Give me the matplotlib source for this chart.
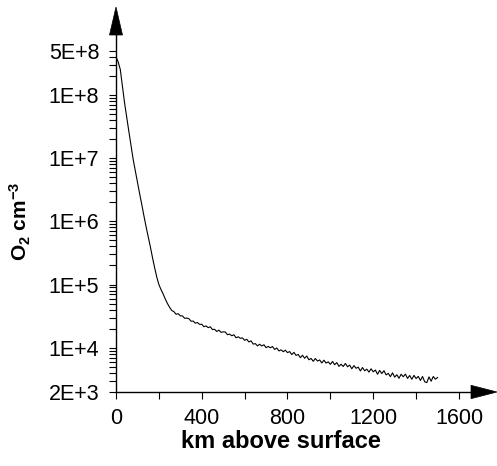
import numpy as np
import matplotlib
matplotlib.use("Agg")
import matplotlib.pyplot as plt
from matplotlib.patches import Polygon
from matplotlib.ticker import FixedLocator, NullFormatter

plt.rcParams['font.family'] = ['Liberation Sans', 'DejaVu Sans']
plt.rcParams['mathtext.fontset'] = 'custom'
plt.rcParams['mathtext.rm'] = 'Liberation Sans:bold'
plt.rcParams['mathtext.default'] = 'rm'

# ---- data ----
altitude_start_km = 0
altitude_step_km = 10
# log10 of O2 density (cm^-3), one value every 10 km from 0 to 1500 km
log10_o2 = [
    8.60, 8.52, 8.40, 8.14, 7.87, 7.64, 7.42, 7.20, 6.98, 6.80,
    6.62, 6.44, 6.27, 6.09, 5.92, 5.76, 5.60, 5.43, 5.27, 5.12,
    5.00, 4.92, 4.85, 4.77, 4.70, 4.64,
    4.590, 4.572, 4.530, 4.540, 4.505, 4.504, 4.466, 4.470, 4.460, 4.420,
    4.422, 4.389, 4.399, 4.370, 4.372,
    4.333, 4.346, 4.318, 4.332, 4.288, 4.292, 4.258, 4.279, 4.244, 4.252,
    4.250, 4.206, 4.216, 4.190, 4.206, 4.158, 4.174, 4.150, 4.156, 4.118,
    4.134, 4.092, 4.110, 4.058, 4.066, 4.030, 4.056, 4.028, 4.048, 4.002,
    4.022, 4.000, 4.020, 3.974, 3.996, 3.950, 3.968, 3.938, 3.962, 3.924,
    3.940, 3.892, 3.928, 3.880, 3.894, 3.844, 3.882, 3.834, 3.870, 3.810,
    3.832, 3.786, 3.830, 3.790, 3.808, 3.760, 3.804, 3.758, 3.778, 3.738,
    3.784, 3.732, 3.766, 3.706, 3.740, 3.704, 3.752, 3.700, 3.726, 3.668,
    3.718, 3.676, 3.694, 3.634, 3.688, 3.636, 3.662, 3.616, 3.668, 3.620,
    3.648, 3.582, 3.642, 3.592, 3.638, 3.572, 3.596, 3.544, 3.604, 3.536,
    3.574, 3.518, 3.582, 3.542, 3.584, 3.516, 3.562, 3.502, 3.564, 3.514,
    3.548, 3.484, 3.546, 3.462, 3.450, 3.540, 3.472, 3.546, 3.504, 3.530,
]
x_ticks = [0, 200, 400, 600, 800, 1000, 1200, 1400, 1600]
x_tick_labels = ['0', '', '400', '', '800', '', '1200', '', '1600']
y_ticks = [2e3, 1e4, 1e5, 1e6, 1e7, 1e8, 5e8]
y_tick_labels = ['2E+3', '1E+4', '1E+5', '1E+6', '1E+7', '1E+8', '5E+8']

altitude = altitude_start_km + altitude_step_km * np.arange(len(log10_o2))
o2 = 10.0 ** np.array(log10_o2)

# ---- figure ----
W, H = 497, 466
fig = plt.figure(figsize=(W / 100, H / 100), dpi=100)
# axes box in pixels: left 116, right 480, bottom 392, top 20
L, R, B, T = 116, 480, 392, 20
ax = fig.add_axes([L / W, 1 - B / H, (R - L) / W, (B - T) / H])

ax.plot(altitude, o2, color='black', lw=0.8)
ax.set_yscale('log')
ax.set_xlim(0, 1698)
ax.set_ylim(2e3, 1.52e9)

ax.set_xticks(x_ticks)
ax.set_xticklabels(x_tick_labels)
ax.set_yticks(y_ticks)
ax.set_yticklabels(y_tick_labels)
minors = []
for dec in [1e3, 1e4, 1e5, 1e6, 1e7, 1e8]:
    for m in range(2, 10):
        v = m * dec
        if 2e3 < v < 5e8 and v not in y_ticks:
            minors.append(v)
ax.yaxis.set_minor_locator(FixedLocator(minors))
ax.yaxis.set_minor_formatter(NullFormatter())

for s in ['top', 'right']:
    ax.spines[s].set_visible(False)
for s in ['left', 'bottom']:
    ax.spines[s].set_linewidth(1.0)

ax.tick_params(axis='both', which='both', direction='out', length=5, width=0.8,
               labelsize=15.5, colors='black')
ax.tick_params(axis='y', pad=7)
ax.tick_params(axis='x', pad=6.5)

# arrowheads
def px(x, y):
    return (x / W, 1 - y / H)

fig.patches.append(Polygon([px(109.5, 35), px(122.5, 35), px(116, 7)], closed=True,
                           transform=fig.transFigure, facecolor='black', edgecolor='black', lw=0.5))
fig.patches.append(Polygon([px(471, 385.3), px(471, 398.7), px(497, 392)], closed=True,
                           transform=fig.transFigure, facecolor='black', edgecolor='black', lw=0.5))

fig.text(20 / W, 1 - 221 / H, r'O$_{2}$ cm$^{-3}$', rotation=90, ha='center', va='center',
         fontsize=15, fontweight='bold')
fig.text(280.5 / W, 1 - 442 / H, 'km above surface', ha='center', va='center',
         fontsize=17, fontweight='bold')

fig.savefig('out.png', dpi=100)
